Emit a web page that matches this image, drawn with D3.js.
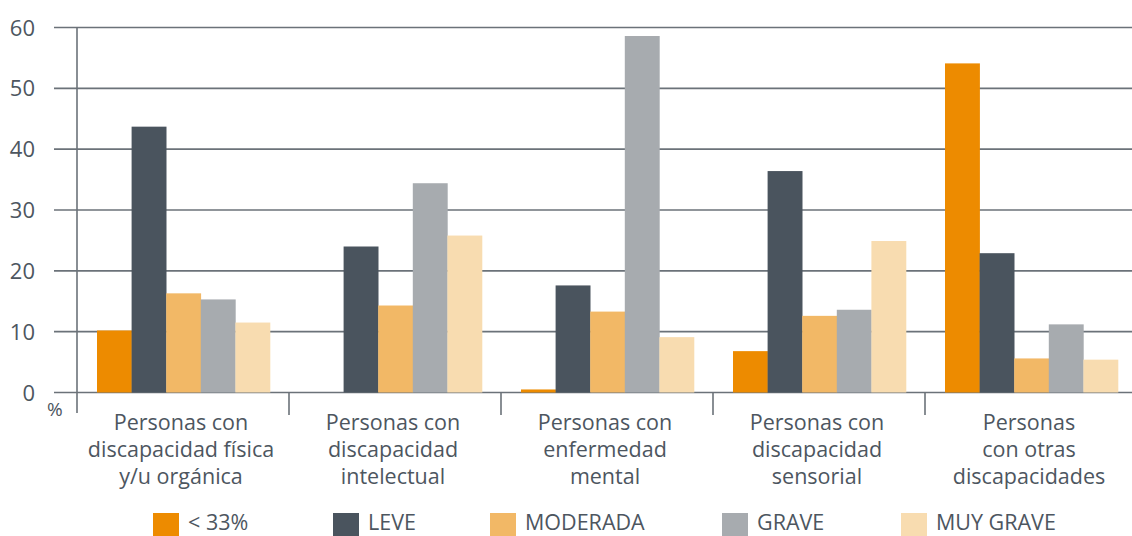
<!DOCTYPE html>
<html>
<head>
<meta charset="utf-8">
<script src="https://cdn.jsdelivr.net/npm/d3@7"></script>
<style>
    body { margin: 0; background: #fff; }
    text { font-family: "Open Sans", sans-serif; fill: #4d565f; }
</style>
</head>
<body>
<div id="chart"></div>
<script>
let categories = [
    ["Personas con", "discapacidad física", "y/u orgánica"],
    ["Personas con", "discapacidad", "intelectual"],
    ["Personas con", "enfermedad", "mental"],
    ["Personas con", "discapacidad", "sensorial"],
    ["Personas", "con otras", "discapacidades"]
];
let seriesNames = ["< 33%", "LEVE", "MODERADA", "GRAVE", "MUY GRAVE"];
let menos33 = [10.2, 0, 0.5, 6.8, 54.1];
let leve = [43.7, 24.0, 17.6, 36.4, 22.9];
let moderada = [16.3, 14.3, 13.3, 12.6, 5.6];
let grave = [15.3, 34.4, 58.6, 13.6, 11.2];
let muyGrave = [11.5, 25.8, 9.1, 24.9, 5.4];
let yTicks = [0, 10, 20, 30, 40, 50, 60];

let colors = ['#ed8b00', '#4a545e', '#f2b866', '#a7abaf', '#f8dcb0'];
let series = [menos33, leve, moderada, grave, muyGrave];

let width = 1132, height = 536,
    left = 77, bandW = 212;

let svg = d3.select('#chart').append('svg')
    .attr('width', width)
    .attr('height', height);

let x0 = d3.scaleBand()
    .domain(d3.range(categories.length))
    .range([left, left + bandW * categories.length])
    .padding(0);

let x1 = d3.scaleBand()
    .domain(d3.range(series.length))
    .range([20, bandW - 19])
    .padding(0);

let y = d3.scaleLinear()
    .domain([0, 60])
    .range([392.5, 27.5]);

// grid lines
svg.append('g').selectAll('line')
    .data(yTicks)
    .enter().append('line')
    .attr('x1', 54)
    .attr('x2', width)
    .attr('y1', d => y(d))
    .attr('y2', d => y(d))
    .style('stroke', '#6b7279')
    .style('stroke-width', 1.6);

// y labels
svg.append('g').selectAll('text')
    .data(yTicks)
    .enter().append('text')
    .attr('x', 35)
    .attr('y', d => y(d) + 8)
    .attr('text-anchor', 'end')
    .style('font-size', '22px')
    .text(d => d);

svg.append('text')
    .attr('x', 47)
    .attr('y', 416)
    .style('font-size', '19px')
    .text('%');

// bars
categories.forEach((c, i) => {
    let g = svg.append('g')
        .attr('transform', 'translate(' + x0(i) + ',0)');
    g.selectAll('rect')
        .data(series.map((s, k) => ({k: k, v: s[i]})))
        .enter().append('rect')
        .attr('x', d => x1(d.k))
        .attr('width', x1.bandwidth() + 0.3)
        .attr('y', d => y(d.v))
        .attr('height', d => y(0) - y(d.v))
        .style('fill', d => colors[d.k]);
});

// y axis line and category separators
svg.append('line')
    .attr('x1', left).attr('x2', left)
    .attr('y1', y(60)).attr('y2', 413)
    .style('stroke', '#6b7279')
    .style('stroke-width', 1.6);

svg.append('g').selectAll('line')
    .data(d3.range(1, categories.length))
    .enter().append('line')
    .attr('x1', d => x0(d)).attr('x2', d => x0(d))
    .attr('y1', y(0)).attr('y2', 415)
    .style('stroke', '#6b7279')
    .style('stroke-width', 1.6);

// category labels
categories.forEach((c, i) => {
    let t = svg.append('text')
        .attr('text-anchor', 'middle')
        .style('font-size', '21.5px');
    c.forEach((line, j) => {
        t.append('tspan')
            .attr('x', x0(i) + bandW / 2 - 2)
            .attr('y', 430 + j * 27)
            .text(line);
    });
});

// legend
let legendX = [153, 333, 490, 722, 901];
let lg = svg.append('g');
seriesNames.forEach((name, i) => {
    lg.append('rect')
        .attr('x', legendX[i])
        .attr('y', 513)
        .attr('width', 26)
        .attr('height', 23)
        .style('fill', colors[i]);
    lg.append('text')
        .attr('x', legendX[i] + 35)
        .attr('y', 530)
        .style('font-size', '21.5px')
        .text(name);
});
</script>
</body>
</html>
